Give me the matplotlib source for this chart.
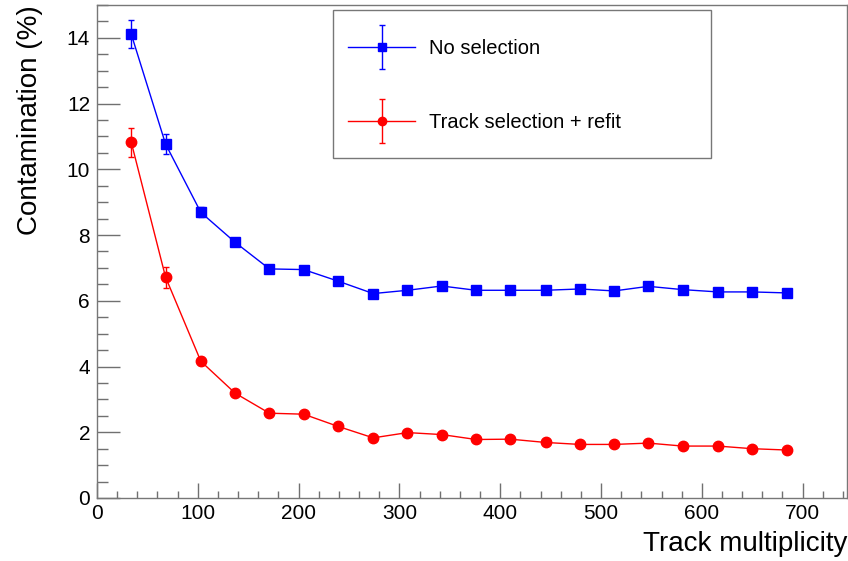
import numpy as np
import matplotlib.pyplot as plt
from matplotlib.patches import Rectangle
from matplotlib.ticker import MultipleLocator
from matplotlib.container import ErrorbarContainer
from matplotlib.legend_handler import HandlerErrorbar

plt.rcParams['font.family'] = ['Liberation Sans', 'DejaVu Sans']

# track multiplicity bins
mult = [34, 68, 103, 137, 171, 205, 239, 274, 308, 342,
        376, 410, 445, 479, 513, 547, 581, 616, 650, 684]

# no selection
cont_nosel = [14.11, 10.77, 8.69, 7.78, 6.97, 6.95, 6.60, 6.22, 6.32, 6.45,
              6.32, 6.32, 6.32, 6.36, 6.30, 6.44, 6.34, 6.27, 6.27, 6.24]
err_nosel = [0.43, 0.30, 0.15, 0.12, 0.08, 0.10, 0.07, 0.07, 0.07, 0.07,
             0.06, 0.06, 0.06, 0.06, 0.06, 0.06, 0.06, 0.06, 0.06, 0.06]

# track selection + refit
cont_sel = [10.82, 6.72, 4.16, 3.19, 2.58, 2.55, 2.18, 1.83, 1.99, 1.93,
            1.78, 1.79, 1.69, 1.63, 1.63, 1.67, 1.58, 1.58, 1.50, 1.46]
err_sel = [0.44, 0.32, 0.12, 0.10, 0.08, 0.08, 0.06, 0.06, 0.06, 0.06,
           0.05, 0.05, 0.05, 0.05, 0.05, 0.05, 0.05, 0.05, 0.05, 0.05]

fig = plt.figure(figsize=(8.48, 5.61), dpi=100)
ax = fig.add_axes([0.1144, 0.1123, 0.8844, 0.8788])

ax.errorbar(mult, cont_nosel, yerr=err_nosel, color="blue", marker="s", markersize=7.2,
            linewidth=1.0, elinewidth=1.0, capsize=2.5, label="No selection")
ax.errorbar(mult, cont_sel, yerr=err_sel, color="red", marker="o", markersize=7.5,
            linewidth=1.0, elinewidth=1.0, capsize=2.5, label="Track selection + refit")

ax.set_xlim(0, 744)
ax.set_ylim(0, 15)
ax.xaxis.set_major_locator(MultipleLocator(100))
ax.xaxis.set_minor_locator(MultipleLocator(20))
ax.yaxis.set_major_locator(MultipleLocator(2))
ax.yaxis.set_minor_locator(MultipleLocator(0.5))

ax.tick_params(axis="both", which="both", direction="in", colors="#707070",
               labelcolor="black", labelsize=15, width=1)
ax.tick_params(axis="x", which="major", length=10.8, pad=4)
ax.tick_params(axis="x", which="minor", length=5.4)
ax.tick_params(axis="y", which="major", length=16.2, pad=5)
ax.tick_params(axis="y", which="minor", length=8.1)
for s in ax.spines.values():
    s.set_color("#777777")
    s.set_linewidth(1)

ax.set_xlabel("Track multiplicity", fontsize=20, loc="right", labelpad=6)
ax.set_ylabel("Contamination (%)", fontsize=20, loc="top", labelpad=17)

# legend box
ax.add_patch(Rectangle((0.315, 0.69), 0.504, 0.30, transform=ax.transAxes,
                       facecolor="white", edgecolor="#777777", linewidth=1, zorder=5))
leg = ax.legend(loc="upper left", bbox_to_anchor=(0.311, 0.967), frameon=False,
                fontsize=14.5, handlelength=3.3, handletextpad=0.7, labelspacing=2.7,
                markerscale=0.8,
                handler_map={ErrorbarContainer: HandlerErrorbar(xerr_size=0.5, yerr_size=1.1)})
leg.set_zorder(6)

plt.savefig("out.png", dpi=100)
